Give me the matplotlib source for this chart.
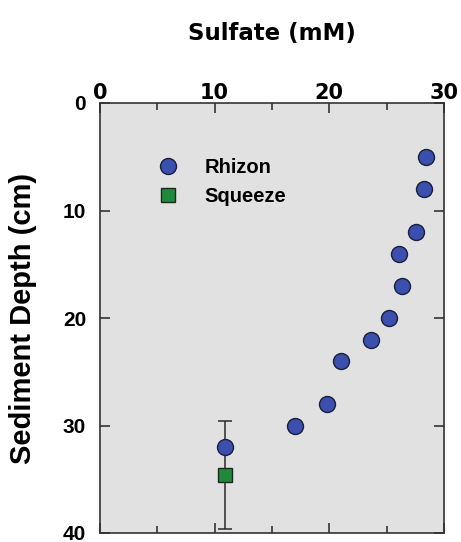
import matplotlib
matplotlib.use("Agg")
import matplotlib.pyplot as plt

plt.rcParams['font.family'] = ['Liberation Sans', 'DejaVu Sans']
plt.rcParams['font.weight'] = 'bold'

# Rhizon pore water
rhizon_sulfate = [28.4, 28.25, 27.6, 26.1, 26.3, 25.2, 23.6, 21.0, 19.8, 17.0, 10.9]
rhizon_depth = [5.0, 8.0, 12.0, 14.0, 17.0, 20.0, 22.0, 24.0, 28.0, 30.0, 32.0]

# Squeeze sample with depth range
squeeze_sulfate = [10.9]
squeeze_depth = [34.6]
squeeze_err = [5.0]

fig = plt.figure(figsize=(4.61, 5.42), dpi=100)
ax = fig.add_axes([100 / 461, 1 - 533 / 542, 344 / 461, 430 / 542])
ax.set_facecolor('#e1e1e1')

ax.errorbar(squeeze_sulfate, squeeze_depth, yerr=squeeze_err, fmt='none',
            ecolor='#2a2a2a', elinewidth=1.1, capsize=5, capthick=1.1, zorder=2)
ax.plot(rhizon_sulfate, rhizon_depth, 'o', ms=11.5, mfc='#3a4fae', mec='#1a1f3a',
        mew=1.0, ls='none', label='Rhizon', zorder=3)
ax.plot(squeeze_sulfate, squeeze_depth, 's', ms=10, mfc='#1f8a3e', mec='#1a2a1a',
        mew=1.0, ls='none', label='Squeeze', zorder=4)

ax.set_xlim(0, 30)
ax.set_ylim(40, 0)
ax.set_xticks([0, 10, 20, 30])
ax.set_xticks([5, 15, 25], minor=True)
ax.set_yticks([0, 10, 20, 30, 40])
ax.xaxis.tick_top()
ax.xaxis.set_label_position('top')
ax.tick_params(axis='both', which='both', direction='in', top=True, bottom=True,
               left=True, right=True, width=1.2, color='#333333')
ax.tick_params(which='major', length=7)
ax.tick_params(which='minor', length=5)
ax.tick_params(axis='x', pad=0)
ax.tick_params(axis='y', pad=10)
for lbl in ax.get_xticklabels():
    lbl.set_fontfamily('DejaVu Sans')
    lbl.set_fontweight('bold')
    lbl.set_fontsize(15)
for lbl in ax.get_yticklabels():
    lbl.set_fontweight('bold')
    lbl.set_fontsize(15)
for s in ax.spines.values():
    s.set_linewidth(1.2)
    s.set_color('#333333')

ax.set_xlabel('Sulfate (mM)', fontsize=16.5, fontweight='bold',
              fontfamily='DejaVu Sans', labelpad=31)
ax.set_ylabel('Sediment Depth (cm)', fontsize=21, fontweight='bold')
ax.yaxis.set_label_coords(-0.183, 0.5)

leg = ax.legend(loc='upper left', bbox_to_anchor=(0.145, 0.891), frameon=False,
                prop={'size': 14.5, 'weight': 'bold'}, handletextpad=1.3,
                labelspacing=0.5, handlelength=1.0, borderaxespad=0)

fig.savefig('out.png', dpi=100)
